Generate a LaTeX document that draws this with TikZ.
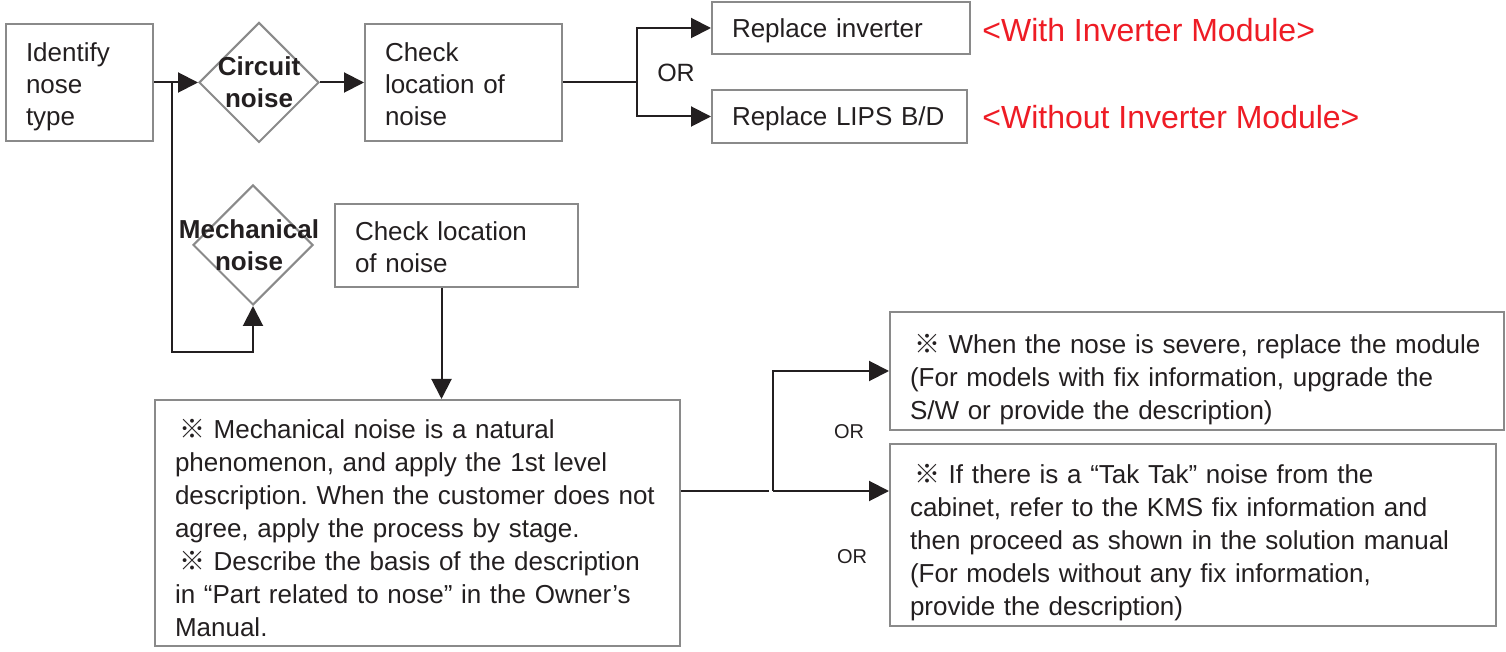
\documentclass[tikz,border=0pt]{standalone}
\usepackage{fontspec}
\setmainfont{Liberation Sans}
\newfontfamily\refmark{Noto Sans CJK JP}
\usetikzlibrary{arrows.meta, shapes.geometric, calc}
\frenchspacing

\definecolor{boxgray}{HTML}{8A8A8A}
\definecolor{ink}{HTML}{231F20}
\definecolor{note}{HTML}{EE1C25}

\begin{document}
\begin{tikzpicture}[x=0.5pt, y=-0.5pt, every node/.style={font=\fontsize{13}{16}\selectfont, text=ink}]
\tikzset{bx/.style={draw=boxgray, line width=1pt, inner xsep=10pt, inner ysep=0pt, align=left},
  dmd/.style={diamond, draw=boxgray, line width=1pt, inner sep=0pt, minimum width=60pt, minimum height=60pt},
  arr/.style={-{Triangle[length=10pt, width=10pt]}, line width=1pt, draw=ink}}
\useasboundingbox (0,0) rectangle (1506,652);
% first row
\node[bx, text width=53.5pt, minimum height=58.5pt, text height=13.5pt] (id) at (79.5,82.5) {Identify\\nose\\type};
\node[dmd, label={[font=\bfseries\fontsize{13}{16}\selectfont, align=center]center:Circuit\\noise}] (circ) at (259,82.5) {};
\node[bx, text width=78.5pt, minimum height=58.5pt, text height=11.5pt] (chk) at (463.5,82.5) {Check\\location of\\noise};
\node[bx, text width=109pt, minimum height=26pt, text height=12.5pt] (rinv) at (841,28) {Replace inverter};
\node[bx, text width=107.5pt, minimum height=26.5pt, text height=11.5pt] (rlips) at (839.5,116.5) {Replace LIPS B/D};
\node[font=\fontsize{12.5}{15}\selectfont] (or1) at (676,73) {OR};
\node[anchor=west, inner sep=0pt, font=\fontsize{16}{19}\selectfont, text=note] (withinv) at (982,30) {<With Inverter Module>};
\node[anchor=west, inner sep=0pt, font=\fontsize{16}{19}\selectfont, text=note] (woinv) at (982,117) {<Without Inverter Module>};
% mechanical branch
\node[dmd, label={[font=\bfseries\fontsize{13}{16}\selectfont, align=center, xshift=-2pt]center:Mechanical\\noise}] (mech) at (253,245) {};
\node[bx, text width=101.5pt, minimum height=41.5pt, text height=11.5pt] (chk2) at (456.5,245.5) {Check location\\of noise};
\node[bx, text width=242.5pt, minimum height=123pt, text height=15pt, font=\fontsize{13}{16.5}\selectfont] (big) at (417.5,523) {\hspace*{2pt}{\refmark ※}\ Mechanical noise is a natural\\phenomenon, and apply the 1st level\\description. When the customer does not\\agree, apply the process by stage.\\\hspace*{2pt}{\refmark ※}\ Describe the basis of the description\\in “Part related to nose” in the Owner’s\\Manual.};
\node[bx, text width=287pt, minimum height=59pt, text height=18pt, font=\fontsize{13}{16.5}\selectfont] (sev) at (1197,371) {\hspace*{2pt}{\refmark ※}\ When the nose is severe, replace the module\\(For models with fix information, upgrade the\\S/W or provide the description)};
\node[bx, text width=283pt, minimum height=91pt, text height=17pt, font=\fontsize{13}{16.5}\selectfont] (tak) at (1193,535) {\hspace*{2pt}{\refmark ※}\ If there is a “Tak Tak” noise from the\\cabinet, refer to the KMS fix information and\\then proceed as shown in the solution manual\\(For models without any fix information,\\provide the description)};
\node[font=\fontsize{10}{12}\selectfont] (or2) at (849,432) {OR};
\node[font=\fontsize{10}{12}\selectfont] (or3) at (852,557) {OR};
% connectors
\draw[arr] (id.east) -- (circ.west);
\coordinate (split) at (172,82.5);
\coordinate (loop) at (172,352);
\draw[arr] (split) -- (loop) -| (mech.south);
\draw[arr] (circ.east) -- (chk.west);
\coordinate (fork) at (637,82.5);
\draw[line width=1pt, draw=ink] (chk.east) -- (fork);
\draw[arr] (fork) |- (rinv.west);
\draw[arr] (fork) |- (rlips.west);
\coordinate (drop) at ([xshift=-7.5pt]chk2.south);
\draw[arr] (drop) -- (drop |- big.north);
\coordinate (fork2) at (773,491);
\draw[line width=1pt, draw=ink] (big.east |- fork2) -- ([xshift=-2pt]fork2);
\draw[arr] (fork2) |- (sev.west);
\draw[arr] (fork2) -- (fork2 -| tak.west);
\end{tikzpicture}
\end{document}
